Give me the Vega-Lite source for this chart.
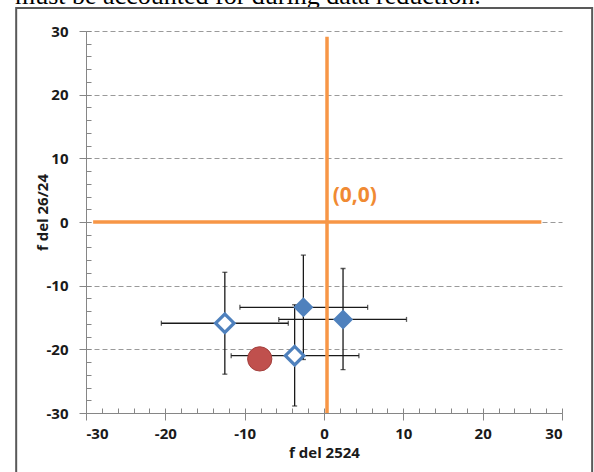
{
  "$schema": "https://vega.github.io/schema/vega-lite/v6.json",
  "width": 476,
  "height": 382,
  "autosize": "none",
  "padding": {"left": 86, "top": 31, "right": 32, "bottom": 59},
  "background": "white",
  "config": {
    "view": {"stroke": null},
    "axis": {
      "labelFont": "Open Sans",
      "labelFontWeight": "bold",
      "labelFontSize": 15,
      "labelColor": "#1a1a1a",
      "titleFont": "Open Sans",
      "titleFontWeight": "bold",
      "titleFontSize": 15,
      "titleColor": "#1a1a1a",
      "domainColor": "#868686",
      "tickColor": "#868686"
    }
  },
  "data": {
    "values": [
      {"x": -12.5, "y": -15.9, "xlo": -20.5, "xhi": -4.5, "ylo": -23.9, "yhi": -7.9, "type": "open"},
      {"x": -2.6, "y": -13.4, "xlo": -10.6, "xhi": 5.5, "ylo": -21.6, "yhi": -5.2, "type": "filled"},
      {"x": 2.4, "y": -15.3, "xlo": -5.7, "xhi": 10.4, "ylo": -23.2, "yhi": -7.3, "type": "filled"},
      {"x": -3.7, "y": -21.0, "xlo": -11.7, "xhi": 4.4, "ylo": -28.9, "yhi": -13.0, "type": "open"},
      {"x": -8.1, "y": -21.5, "type": "circle"}
    ]
  },
  "resolve": {"axis": {"x": "independent", "y": "independent"}},
  "layer": [
    {
      "transform": [{"filter": "datum.type !== 'circle'"}],
      "mark": {"type": "rule", "color": "#1a1a1a", "strokeWidth": 1.3},
      "encoding": {
        "x": {
          "field": "xlo", "type": "quantitative",
          "scale": {"domain": [-30, 30], "nice": false, "zero": false},
          "axis": {
            "orient": "bottom",
            "values": [-30, -20, -10, 0, 10, 20, 30],
            "labelExpr": "'' + datum.value",
            "tickSize": 7,
            "labelPadding": 6,
            "grid": false,
            "title": "f del 2524",
            "titleY": 39,
            "titleBaseline": "middle"
          }
        },
        "x2": {"field": "xhi"},
        "y": {
          "field": "y", "type": "quantitative",
          "scale": {"domain": [-30, 30], "nice": false, "zero": false},
          "axis": {
            "orient": "left",
            "values": [-30, -20, -10, 0, 10, 20, 30],
            "labelExpr": "'' + datum.value",
            "tickSize": 7,
            "labelPadding": 11,
            "grid": true,
            "gridColor": "#9a9a9a",
            "gridDash": [5, 3],
            "gridWidth": 1,
            "title": "f del 26/24",
            "titleX": -44,
            "titleY": 181,
            "titleAngle": -90,
            "titleAlign": "center",
            "titleBaseline": "middle"
          }
        }
      }
    },
    {
      "transform": [{"filter": "datum.type !== 'circle'"}],
      "mark": {"type": "rule", "color": "#1a1a1a", "strokeWidth": 1.3},
      "encoding": {
        "x": {
          "field": "x", "type": "quantitative",
          "axis": {
            "orient": "bottom",
            "values": [-30, -28, -26, -24, -22, -20, -18, -16, -14, -12, -10, -8, -6, -4, -2, 0, 2, 4, 6, 8, 10, 12, 14, 16, 18, 20, 22, 24, 26, 28, 30],
            "tickSize": -5,
            "labels": false,
            "domain": false,
            "grid": false,
            "title": null
          }
        },
        "y": {
          "field": "ylo", "type": "quantitative",
          "axis": {
            "orient": "left",
            "values": [-30, -28, -26, -24, -22, -20, -18, -16, -14, -12, -10, -8, -6, -4, -2, 0, 2, 4, 6, 8, 10, 12, 14, 16, 18, 20, 22, 24, 26, 28, 30],
            "tickSize": -5,
            "labels": false,
            "domain": false,
            "grid": false,
            "title": null
          }
        },
        "y2": {"field": "yhi"}
      }
    },
    {
      "transform": [{"filter": "datum.type !== 'circle'"}],
      "mark": {"type": "tick", "orient": "vertical", "color": "#1a1a1a", "size": 5, "thickness": 1.3},
      "encoding": {
        "x": {"field": "xlo", "type": "quantitative", "axis": null},
        "y": {"field": "y", "type": "quantitative", "axis": null}
      }
    },
    {
      "transform": [{"filter": "datum.type !== 'circle'"}],
      "mark": {"type": "tick", "orient": "vertical", "color": "#1a1a1a", "size": 5, "thickness": 1.3},
      "encoding": {
        "x": {"field": "xhi", "type": "quantitative", "axis": null},
        "y": {"field": "y", "type": "quantitative", "axis": null}
      }
    },
    {
      "transform": [{"filter": "datum.type !== 'circle'"}],
      "mark": {"type": "tick", "orient": "horizontal", "color": "#1a1a1a", "size": 5, "thickness": 1.3},
      "encoding": {
        "x": {"field": "x", "type": "quantitative", "axis": null},
        "y": {"field": "ylo", "type": "quantitative", "axis": null}
      }
    },
    {
      "transform": [{"filter": "datum.type !== 'circle'"}],
      "mark": {"type": "tick", "orient": "horizontal", "color": "#1a1a1a", "size": 5, "thickness": 1.3},
      "encoding": {
        "x": {"field": "x", "type": "quantitative", "axis": null},
        "y": {"field": "yhi", "type": "quantitative", "axis": null}
      }
    },
    {
      "transform": [{"filter": "datum.type === 'filled'"}],
      "mark": {"type": "point", "shape": "diamond", "filled": true, "size": 400, "color": "#4F81BD", "opacity": 1},
      "encoding": {
        "x": {"field": "x", "type": "quantitative", "axis": null},
        "y": {"field": "y", "type": "quantitative", "axis": null}
      }
    },
    {
      "transform": [{"filter": "datum.type === 'open'"}],
      "mark": {"type": "point", "shape": "diamond", "filled": false, "size": 340, "fill": "white", "fillOpacity": 1, "stroke": "#4F81BD", "strokeWidth": 3.2, "opacity": 1},
      "encoding": {
        "x": {"field": "x", "type": "quantitative", "axis": null},
        "y": {"field": "y", "type": "quantitative", "axis": null}
      }
    },
    {
      "transform": [{"filter": "datum.type === 'circle'"}],
      "mark": {"type": "circle", "size": 590, "fill": "#C0504D", "stroke": "#A3403D", "strokeWidth": 1, "opacity": 1},
      "encoding": {
        "x": {"field": "x", "type": "quantitative", "axis": null},
        "y": {"field": "y", "type": "quantitative", "axis": null}
      }
    },
    {
      "data": {"values": [{}]},
      "mark": {"type": "rule", "color": "#F79646", "strokeWidth": 3.5},
      "encoding": {
        "x": {"datum": -29.1, "type": "quantitative", "axis": null},
        "x2": {"datum": 27.4},
        "y": {"datum": 0, "type": "quantitative", "axis": null}
      }
    },
    {
      "data": {"values": [{}]},
      "mark": {"type": "rule", "color": "#F79646", "strokeWidth": 3.5},
      "encoding": {
        "x": {"datum": 0.38, "type": "quantitative", "axis": null},
        "y": {"datum": -30, "type": "quantitative", "axis": null},
        "y2": {"datum": 29.1}
      }
    },
    {
      "data": {"values": [{}]},
      "mark": {"type": "text", "text": "(0,0)", "font": "Open Sans", "fontWeight": "bold", "fontSize": 21, "color": "#F08A33", "align": "left", "baseline": "middle"},
      "encoding": {
        "x": {"datum": 1.1, "type": "quantitative", "axis": null},
        "y": {"datum": 4.1, "type": "quantitative", "axis": null}
      }
    },
    {
      "data": {"values": [{}]},
      "mark": {"type": "text", "text": "must be accounted for during data reduction.", "font": "Liberation Serif", "fontSize": 26, "fontWeight": "normal", "color": "#000000", "align": "left", "baseline": "alphabetic", "clip": false},
      "encoding": {
        "x": {"datum": -38.95, "type": "quantitative", "axis": null},
        "y": {"datum": 34.25, "type": "quantitative", "axis": null}
      }
    },
    {
      "data": {"values": [{}]},
      "mark": {"type": "rect", "fill": null, "fillOpacity": 0, "stroke": "#595959", "strokeWidth": 2, "clip": false},
      "encoding": {
        "x": {"datum": -38.8, "type": "quantitative", "axis": null},
        "x2": {"datum": 33.8},
        "y": {"datum": 33.6, "type": "quantitative", "axis": null},
        "y2": {"datum": -40}
      }
    }
  ]
}
